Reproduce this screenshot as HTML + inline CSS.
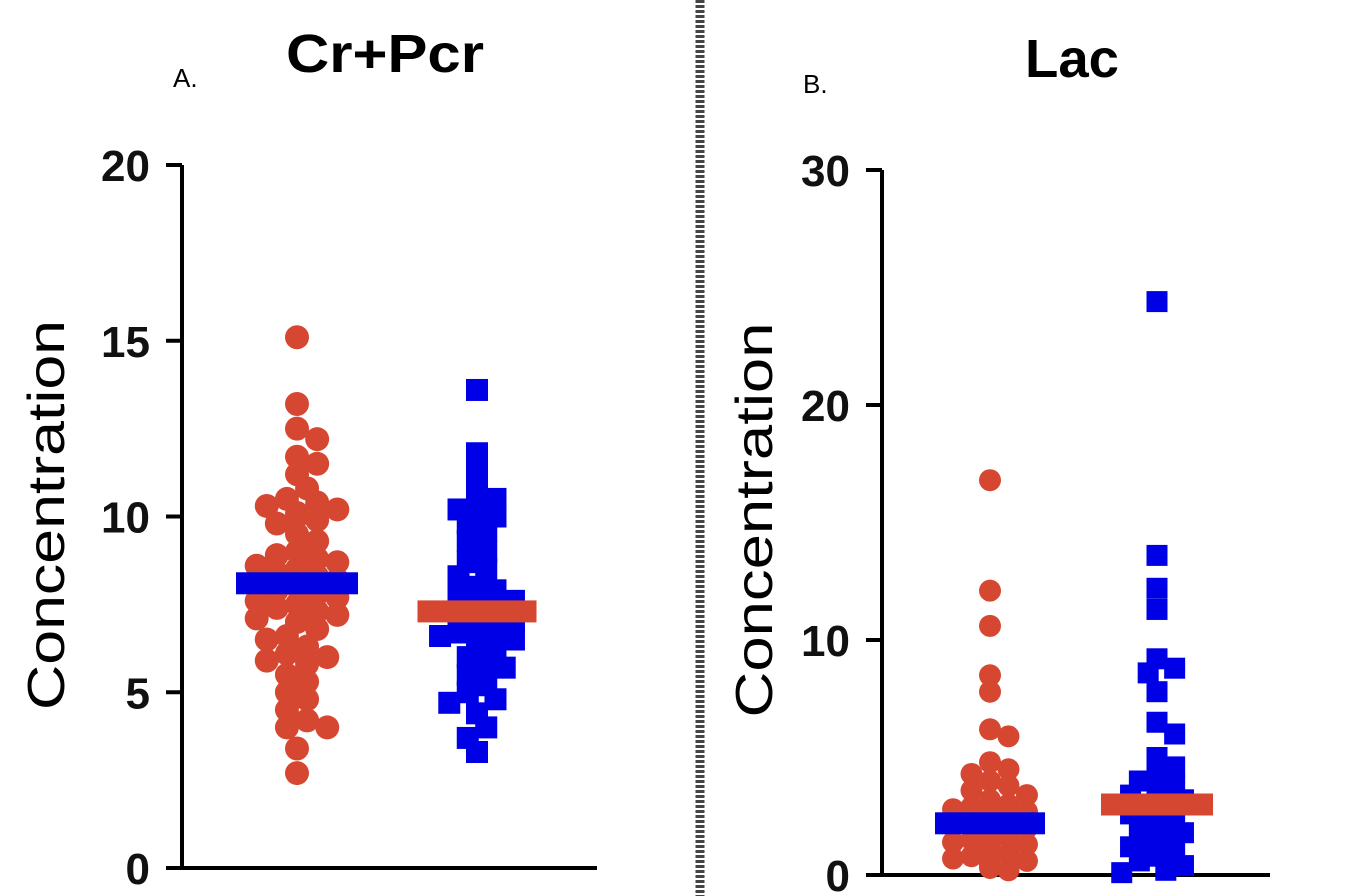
<!DOCTYPE html>
<html><head><meta charset="utf-8"><style>
body{margin:0;background:#fff;}
svg{display:block;font-family:"Liberation Sans",Arial,sans-serif;}
</style></head><body>
<svg id="c" width="1350" height="896" viewBox="0 0 1350 896">
<line x1="700" y1="0" x2="700" y2="896" stroke="#444" stroke-width="9" stroke-dasharray="3,2"/>
<text x="385" y="72" font-size="54" font-weight="bold" text-anchor="middle" textLength="198" lengthAdjust="spacingAndGlyphs">Cr+Pcr</text>
<text x="1072" y="77" font-size="54" font-weight="bold" text-anchor="middle" textLength="94" lengthAdjust="spacingAndGlyphs">Lac</text>
<text x="173" y="87" font-size="26">A.</text>
<text x="803" y="93" font-size="26">B.</text>
<text transform="translate(64,515) rotate(-90)" font-size="52" text-anchor="middle" textLength="390" lengthAdjust="spacingAndGlyphs">Concentration</text>
<text transform="translate(772,520) rotate(-90)" font-size="52" text-anchor="middle" textLength="395" lengthAdjust="spacingAndGlyphs">Concentration</text>
<g id="pa"></g><g id="pb"></g>
</svg>
<script>
const ticksA=[0,5,10,15,20];
const ticksB=[0,10,20,30];
const redA=[15.1,13.2,12.5,12.2,11.7,11.5,11.2,10.8,10.5,10.4,10.3,10.2,10.1,10.0,9.9,9.8,9.5,9.3,9.0,8.9,8.8,8.7,8.6,8.5,8.5,8.4,8.3,8.2,8.1,8.0,7.9,7.8,7.7,7.6,7.5,7.4,7.3,7.2,7.1,7.0,7.0,6.8,6.6,6.5,6.3,6.1,6.0,5.9,5.8,5.5,5.3,5.0,4.8,4.5,4.2,4.0,4.0,3.4,2.7];
const blueA=[13.6,11.8,11.3,10.8,10.5,10.2,10.2,10.0,9.8,9.6,9.3,9.0,8.7,8.5,8.3,8.0,7.9,7.8,7.6,7.4,7.3,7.2,7.0,6.9,6.8,6.7,6.6,6.5,6.4,6.2,6.0,5.8,5.7,5.5,5.2,5.0,4.8,4.7,4.4,4.0,3.7,3.3];
const redB=[16.8,12.1,10.6,8.5,7.8,6.2,5.9,4.8,4.5,4.3,4.0,3.8,3.6,3.4,3.2,3.0,2.9,2.8,2.7,2.6,2.5,2.4,2.3,2.2,2.1,2.0,1.9,1.8,1.7,1.6,1.5,1.4,1.3,1.2,1.1,1.0,0.9,0.8,0.7,0.6,0.5,0.4,0.3,0.2];
const blueB=[24.4,13.6,12.2,11.3,9.2,8.8,8.6,7.8,6.5,6.0,5.0,4.6,4.3,4.0,3.8,3.6,3.4,3.2,3.0,2.8,2.6,2.4,2.2,2.0,1.8,1.6,1.4,1.2,1.0,0.8,0.6,0.4,0.2,0.1];
const meansA=[8.1,7.3];
const meansB=[2.2,3.0];
const NS='http://www.w3.org/2000/svg';
function mk(p,tag,at){const e=document.createElementNS(NS,tag);for(const k in at)e.setAttribute(k,at[k]);p.appendChild(e);return e;}
function panel(g,cfg){
  const y=v=>cfg.y0-(v-cfg.min)/(cfg.max-cfg.min)*(cfg.y0-cfg.y1);
  const ax=mk(g,'path',{d:`M${cfg.ax} ${y(cfg.max)}V${cfg.y0}H${cfg.xend}`,stroke:'#000','stroke-width':4,fill:'none'});
  
  
  cfg.ticks.forEach(t=>{
    const l=mk(g,'line',{x1:cfg.ax-16,x2:cfg.ax,y1:y(t),y2:y(t),stroke:'#000','stroke-width':4});
    
    
    const tx=mk(g,'text',{x:cfg.ax-32,y:y(t)+16,'font-size':44,'font-weight':'bold','text-anchor':'end',fill:'#111'});
    tx.textContent=t;
    
    
  });
  cfg.groups.forEach((gr,gi)=>{
    const placed=[];const r=gr.size/2;const d=gr.size*0.72;
    gr.vals.forEach(v=>{
      const py=y(v);let off=0;
      for(let k=0;k<40;k++){
        const cand=k===0?0:(k%2?1:-1)*Math.ceil(k/2)*gr.size*0.42;
        if(Math.abs(cand)>gr.maxw){break;}
        if(placed.every(p=>Math.hypot(p[0]-cand,p[1]-py)>=d)){off=cand;break;}
      }
      placed.push([off,py]);
      const cx=gr.cx+off;let m;
      if(gr.shape==='circle')m=mk(g,'circle',{cx:cx,cy:py,r:r,fill:'#d64732'});
      else m=mk(g,'rect',{x:cx-r,y:py-r,width:gr.size,height:gr.size,fill:'#0000e6'});
      
      
    });
    const my=y(cfg.means[gi]);
    const b=mk(g,'rect',{x:gr.cx-gr.bw/2,y:my-11,width:gr.bw,height:22,fill:gr.shape==='circle'?'#0000e0':'#d64732'});
    
    
  });
}
panel(document.getElementById('pa'),{ax:182,y0:868,y1:165,min:0,max:20,xend:597,ticks:ticksA,means:meansA,
 groups:[{cx:297,vals:redA,shape:'circle',size:24,bw:122,maxw:50,name:'group1-a'},{cx:477,vals:blueA,shape:'square',size:22,bw:119,maxw:48,name:'group2-a'}]});
panel(document.getElementById('pb'),{ax:882,y0:875,y1:170,min:0,max:30,xend:1270,ticks:ticksB,means:meansB,
 groups:[{cx:990,vals:redB,shape:'circle',size:22,bw:110,maxw:45,name:'group1-b'},{cx:1157,vals:blueB,shape:'square',size:21,bw:112,maxw:45,name:'group2-b'}]});
</script>
</body></html>
